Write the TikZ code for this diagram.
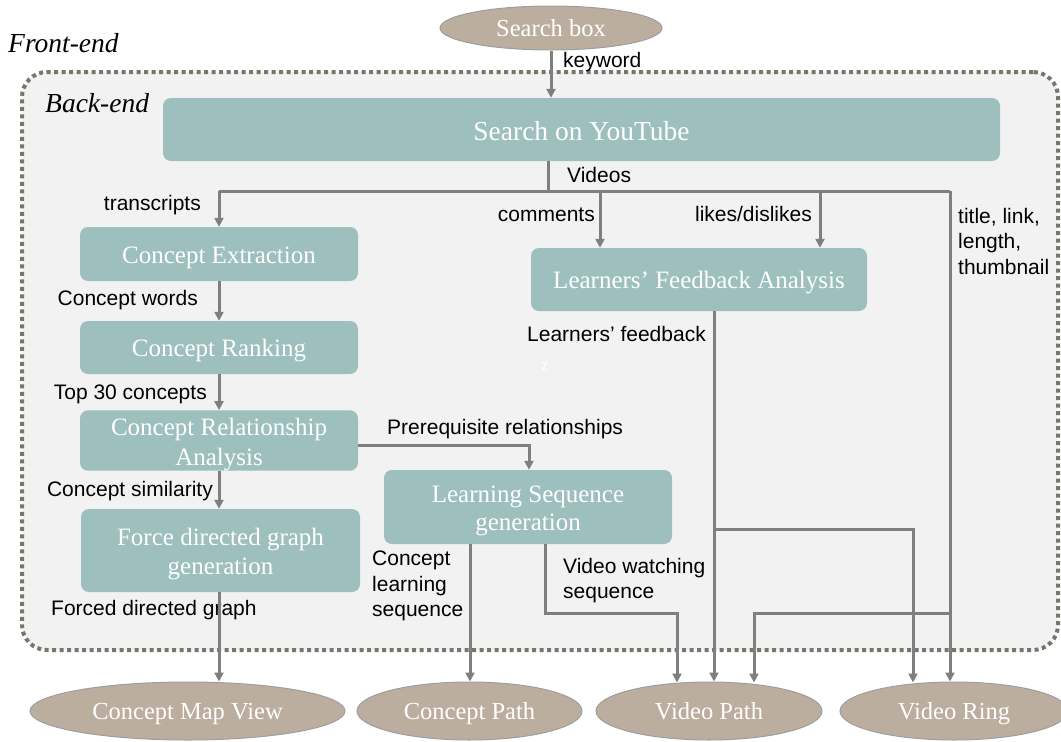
\documentclass[tikz,border=0pt]{standalone}
\usepackage{fontspec}
\setmainfont{Liberation Serif}
\newfontfamily\labfont{Liberation Sans}
\usetikzlibrary{arrows.meta,shapes.geometric}
\definecolor{boxc}{HTML}{9DBFBD}
\definecolor{ellc}{HTML}{BCAE9E}
\definecolor{ellb}{HTML}{9E9E9E}
\definecolor{linec}{HTML}{7F7F7F}
\definecolor{dotc}{HTML}{76766A}
\definecolor{bgc}{HTML}{F2F2F2}
\begin{document}
\begin{tikzpicture}[x=1pt,y=-1pt,
  procbox/.style={fill=boxc, rounded corners=8pt, text=white, font=\fontsize{25}{29}\selectfont, align=center, inner sep=0pt},
  oneline/.style={text height=21.5pt, text depth=3.5pt},
  ell/.style={ellipse, fill=ellc, draw=ellb, line width=1pt, text=white, font=\fontsize{24.5}{29}\selectfont, inner sep=0pt, text height=20.5pt, text depth=3.3pt},
  lbl/.style={font=\labfont\fontsize{21}{25.5}\selectfont, inner sep=0pt, text=black, align=left},
  itl/.style={font=\fontsize{27.5}{30}\selectfont\itshape, inner sep=0pt},
  conn/.style={draw=linec, line width=3pt, -{Triangle[length=9pt,width=9pt]}},
  plainline/.style={draw=linec, line width=3pt}]
\useasboundingbox (0,0) rectangle (1061,742);

% back-end region
\node[fill=bgc, draw=dotc, line width=4pt, dash pattern=on 4pt off 3.5pt, rounded corners=25pt, minimum width=1036pt, minimum height=578pt] (be) at (540,361) {};

\node[itl, anchor=west] (fe) at (8,43) {Front-end};
\node[itl, anchor=west] (bel) at (45,103) {Back-end};

% nodes
\node[ell, minimum width=222pt, minimum height=44pt] (sb) at (551,28) {Search box};
\node[procbox, minimum width=837pt, minimum height=63pt, font=\fontsize{27.5}{30}\selectfont, text height=24pt, text depth=3pt] (yt) at (581.5,129.5) {Search on YouTube};
\node[procbox, oneline, minimum width=278pt, minimum height=54pt] (ce) at (219,254) {Concept Extraction};
\node[procbox, oneline, minimum width=278pt, minimum height=53pt] (cr) at (219,347.5) {Concept Ranking};
\node[procbox, text height=55pt, minimum width=278pt, minimum height=59pt] (cra) at (219,440.5) {Concept Relationship\\[1pt]Analysis};
\node[procbox, text height=54pt, minimum width=279pt, minimum height=83pt] (fdg) at (220.5,550.5) {Force directed graph\\generation};
\node[procbox, oneline, minimum width=336pt, minimum height=63pt] (lfa) at (699,279.5) {Learners’ Feedback Analysis};
\node[procbox, text height=53pt, minimum width=288pt, minimum height=74pt] (lsg) at (528,507) {Learning Sequence\\[-1pt]generation};

\node[ell, minimum width=315pt, minimum height=58pt] (cmv) at (187.5,711) {Concept Map View};
\node[ell, minimum width=225pt, minimum height=58pt] (cp) at (469.5,711) {Concept Path};
\node[ell, minimum width=226pt, minimum height=58pt] (vp) at (709,711) {Video Path};
\node[ell, minimum width=228pt, minimum height=58pt] (vr) at (954,711) {Video Ring};

% labels
\node[lbl, anchor=west] (lkw) at (563,62) {keyword};
\node[lbl, anchor=west] (lvid) at (567,175) {Videos};
\node[lbl, anchor=east] (ltr) at (201,205) {transcripts};
\node[lbl, anchor=east] (lcom) at (595,215) {comments};
\node[lbl, anchor=east] (llk) at (812,214) {likes/dislikes};
\node[lbl, anchor=north west] (ltl) at (958,208) {title, link,\\length,\\thumbnail};
\node[lbl, anchor=east] (lcw) at (198,300) {Concept words};
\node[lbl, anchor=east] (ltop) at (207,394) {Top 30 concepts};
\node[lbl, anchor=west] (lpre) at (387,429) {Prerequisite relationships};
\node[lbl, anchor=east] (lsim) at (213,491) {Concept similarity};
\node[lbl, anchor=west] (lfg) at (51,610) {Forced directed graph};
\node[lbl, anchor=north west] (lcls) at (372,551) {Concept\\learning\\sequence};
\node[lbl, anchor=north west] (lvws) at (563,558) {Video watching\\sequence};
\node[lbl, anchor=east] (llf) at (706,334) {Learners’ feedback};
\node[text=white, font=\fontsize{18}{20}\selectfont, inner sep=0pt] (zz) at (545,366) {z};

% coordinates
\coordinate (vj) at (548,191);
\coordinate (hl) at (219,191);
\coordinate (hr) at (950,191);
\coordinate (cm) at (600,191);
\coordinate (lk) at (820,191);
\coordinate (lfx) at (714,311);
\coordinate (b1) at (714,529);
\coordinate (b1e) at (913,529);
\coordinate (t1) at (950,613);
\coordinate (t1e) at (754,613);
\coordinate (vw) at (545,613);
\coordinate (vwe) at (677,613);
\coordinate (cpx) at (470,545);
\coordinate (pr) at (529,445);
\coordinate (fx) at (219,592);

% connectors
\draw[conn] (sb.south) -- (sb.south |- yt.north);
\draw[plainline] (yt.south -| vj) -- (vj);
\draw[plainline] (hl) -- (hr);
\draw[conn] (hl) -- (ce.north);
\draw[conn] (cm) -- (cm |- lfa.north);
\draw[conn] (lk) -- (lk |- lfa.north);
\draw[conn] (hr) -- (hr |- vr.north);
\draw[conn] (ce) -- (cr);
\draw[conn] (cr) -- (cra);
\draw[conn] (cra.south) -- (cra.south |- fdg.north);
\draw[conn] (fdg.south -| fx) -- (fx |- cmv.north);
\draw[conn] (cra.east |- pr) -- (pr) -- (pr |- lsg.north);
\draw[conn] (lsg.south -| cpx) -- (cpx |- cp.north);
\draw[conn] (lsg.south -| vw) -- (vw) -- (vwe) -- ([yshift=-1pt]vwe |- vp.north);
\draw[conn] (lfa.south -| lfx) -- (lfx |- vp.north);
\draw[conn] (b1) -- (b1e) -- ([yshift=-1pt]b1e |- vr.north);
\draw[conn] (t1) -- (t1e) -- ([yshift=-1pt]t1e |- vp.north);
\end{tikzpicture}
\end{document}
